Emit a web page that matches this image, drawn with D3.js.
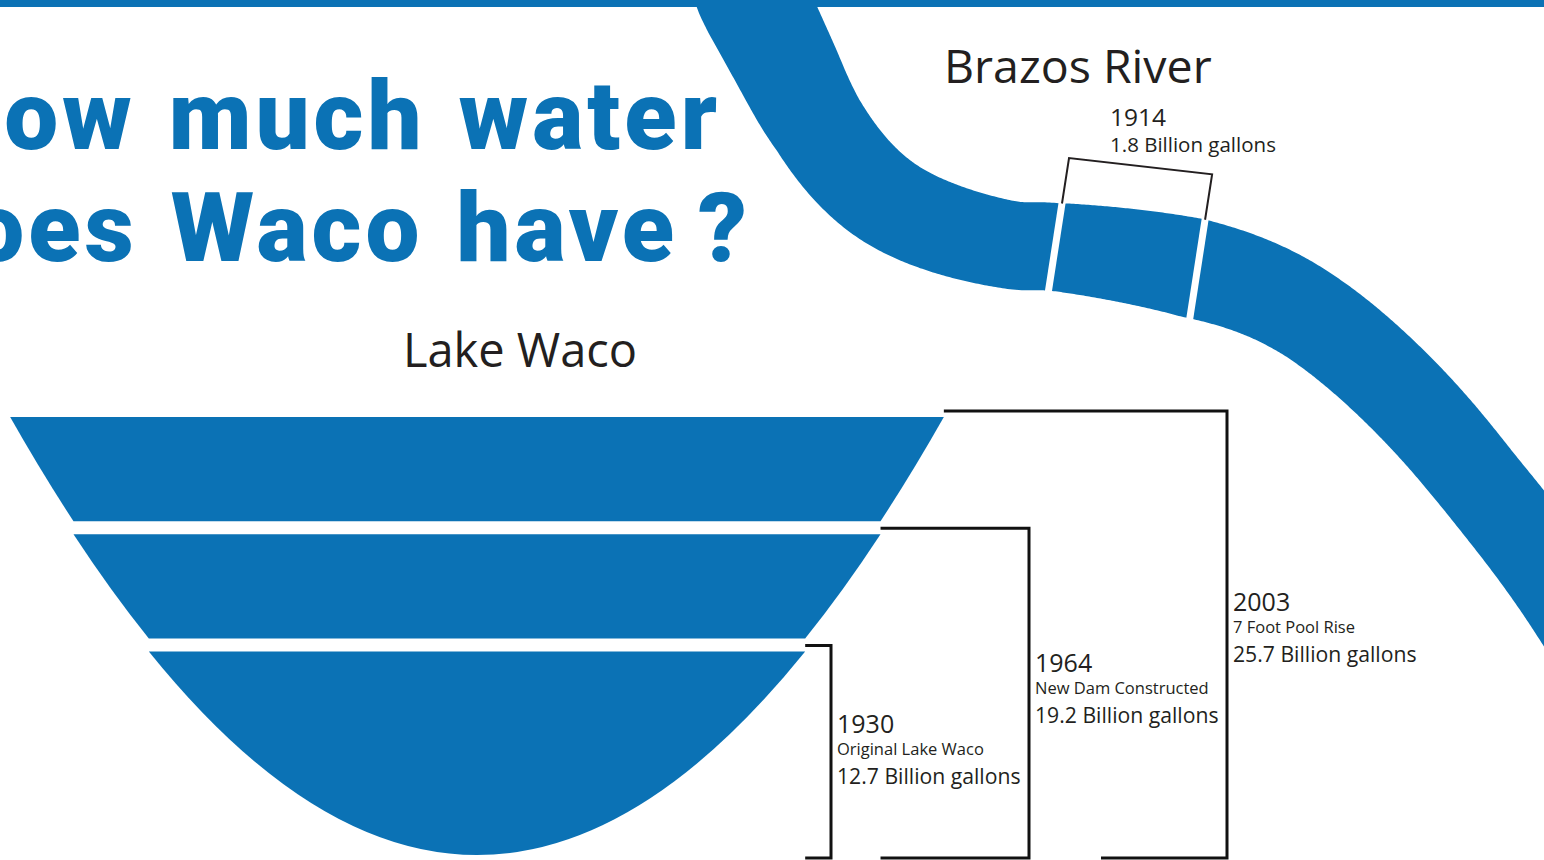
<!DOCTYPE html>
<html>
<head>
<meta charset="utf-8">
<script src="https://cdn.jsdelivr.net/npm/d3@7"></script>
<style>
  body { margin: 0; background: #fff; overflow: hidden; }
  text { font-family: "Open Sans", sans-serif; fill: #231f20; }
</style>
</head>
<body>
<svg id="chart" width="1544" height="860"></svg>
<script>
// lake capacity by year, billion gallons
const years = [1930, 1964, 2003];
const notes = ['Original Lake Waco', 'New Dam Constructed', '7 Foot Pool Rise'];
const capacity = [12.7, 19.2, 25.7];

// river storage
const riverYear = 1914;
const riverCapacity = 1.8;

const titleLines = ['How much water', 'Does Waco have ?'];

const W = 1544, H = 860;
const blue = '#0b72b5', ink = '#231f20';

const svg = d3.select('#chart');

// ---------- Brazos River ----------
// course of the river: x, y, band width
const course = [
    [749, -10, 110], [757, 7, 110], [789, 71, 104], [818, 125, 97],
    [893, 205, 93], [1005, 244, 88], [1055, 247, 88], [1193, 268, 100],
    [1313, 318, 94], [1413, 405, 92], [1480, 483, 90], [1544, 565, 91], [1600, 650, 91]
];
const cutX = [1055, 1196];

const centre = d3.line().curve(d3.curveNatural)(course.map(p => [p[0], p[1]]));
const probe = svg.append('path').attr('d', centre).attr('fill', 'none');
const node = probe.node();
const total = node.getTotalLength();
const widthAt = d3.scaleLinear().domain(course.map(p => p[0])).range(course.map(p => p[2]));

function sampleAt(l) {
    const p = node.getPointAtLength(l);
    const a = node.getPointAtLength(Math.max(l - 1, 0));
    const b = node.getPointAtLength(Math.min(l + 1, total));
    const len = Math.hypot(b.x - a.x, b.y - a.y);
    const n = [-(b.y - a.y) / len, (b.x - a.x) / len];   // points to the outer bank
    const w = widthAt(p.x);
    return {
        p: [p.x, p.y], w: w,
        inner: [p.x - n[0] * w / 2, p.y - n[1] * w / 2],
        outer: [p.x + n[0] * w / 2, p.y + n[1] * w / 2]
    };
}

const steps = d3.range(0, total, 2).concat([total]);
const band = steps.map(sampleAt);
const xs = band.map(s => s.p[0]);
const cuts = cutX.map(cx => band[d3.bisectLeft(xs, cx)]);
probe.remove();

const line = d3.line();
svg.append('path')
    .attr('fill', blue)
    .attr('d', line(band.map(d => d.inner).concat(band.slice().reverse().map(d => d.outer))) + 'Z');

// the stretch held in 1914 is cut out square to its chord
const chord = [cuts[1].p[0] - cuts[0].p[0], cuts[1].p[1] - cuts[0].p[1]];
const chordLen = Math.hypot(chord[0], chord[1]);
const cn = [-chord[1] / chordLen, chord[0] / chordLen];
const along = (c, k) => [c.p[0] + cn[0] * k, c.p[1] + cn[1] * k];

svg.append('g')
    .selectAll('line')
    .data(cuts)
    .join('line')
    .attr('stroke', '#fff')
    .attr('stroke-width', 7)
    .attr('x1', c => along(c, -c.w / 2 - 8)[0])
    .attr('y1', c => along(c, -c.w / 2 - 8)[1])
    .attr('x2', c => along(c, c.w / 2 + 8)[0])
    .attr('y2', c => along(c, c.w / 2 + 8)[1]);

const feet = cuts.map(c => along(c, -c.w / 2));
const heads = cuts.map(c => along(c, -c.w / 2 - 46));
svg.append('path')
    .attr('fill', 'none')
    .attr('stroke', ink)
    .attr('stroke-width', 2)
    .attr('d', line([feet[0], heads[0], heads[1], feet[1]]));

const riverLabel = svg.append('g')
    .attr('transform', 'translate(' + (heads[0][0] + 41) + ',' + heads[0][1] + ')');
riverLabel.append('text').attr('y', -32).attr('font-size', 24.5).text(riverYear);
riverLabel.append('text').attr('y', -6).attr('font-size', 20.5).text(riverCapacity + ' Billion gallons');

svg.append('text')
    .attr('x', 944).attr('y', 83)
    .attr('font-size', 46.5)
    .text('Brazos River');

// top stripe
svg.append('rect').attr('width', W).attr('height', 7).attr('fill', blue);

// ---------- title ----------
const title = svg.append('g')
    .selectAll('text')
    .data(titleLines)
    .join('text')
    .attr('x', (d, i) => i ? 751 : 721)
    .attr('y', (d, i) => 149 + i * 112)
    .attr('text-anchor', 'end')
    .style('font-family', 'Roboto, sans-serif')
    .style('font-weight', 900)
    .style('letter-spacing', '4px')
    .style('word-spacing', '5px')
    .style('fill', blue)
    .attr('font-size', 96);

// the question mark sits closer to its word
title.each(function (d) {
    const t = d3.select(this);
    const q = d.endsWith(' ?');
    t.append('tspan').text(q ? d.slice(0, -2) : d);
    if (q) t.append('tspan').attr('dx', -8).style('word-spacing', '0px').text(' ?');
});

// ---------- Lake Waco bowl ----------
const bowl = {cx: 477, bottom: 855, depth: 412, gap: 13, k: 23.0};
const depth = d3.scaleLinear().domain([0, d3.max(capacity)]).range([0, bowl.depth]);
const halfW = d => bowl.k * Math.sqrt(d);

const levels = capacity.map((c, i) => ({
    year: years[i], note: notes[i], cap: c, i: i,
    lo: i ? depth(capacity[i - 1]) : 0,
    hi: depth(c)
}));

function segmentPath(lv) {
    const off = lv.i * bowl.gap;
    const yAt = u => bowl.bottom - off - (u * u) / (bowl.k * bowl.k);
    const arc = (p, u1, u2) => {
        const uc = (u1 + u2) / 2;
        const slope = 2 * u1 / (bowl.k * bowl.k);
        p.quadraticCurveTo(bowl.cx + uc, yAt(u1) - slope * (uc - u1), bowl.cx + u2, yAt(u2));
    };
    const top = halfW(lv.hi), bot = halfW(lv.lo);
    const p = d3.path();
    p.moveTo(bowl.cx + top, yAt(top));
    p.lineTo(bowl.cx - top, yAt(top));
    arc(p, -top, -bot);
    if (bot > 0) p.lineTo(bowl.cx + bot, yAt(bot));
    arc(p, bot, top);
    p.closePath();
    return p.toString();
}

svg.append('g')
    .selectAll('path')
    .data(levels)
    .join('path')
    .attr('fill', blue)
    .attr('d', segmentPath);

svg.append('text')
    .attr('x', 520).attr('y', 367)
    .attr('text-anchor', 'middle')
    .attr('font-size', 47)
    .text('Lake Waco');

// brackets and labels
const bx = d3.scalePoint().domain(years).range([831, 1227]);
const labelY = d3.scalePoint().domain(years).range([733, 611]);
const bracketBottom = 858;

svg.append('g')
    .selectAll('path')
    .data(levels)
    .join('path')
    .attr('fill', 'none')
    .attr('stroke', '#111')
    .attr('stroke-width', 3)
    .attr('d', lv => {
        const x0 = bowl.cx + halfW(lv.hi);
        const y0 = bowl.bottom - lv.i * bowl.gap - lv.hi - 6;
        const prev = lv.i ? bx(years[lv.i - 1]) : -Infinity;
        const xb = x0 < prev ? prev + 72 : x0;
        return line([[x0, y0], [bx(lv.year), y0], [bx(lv.year), bracketBottom], [xb, bracketBottom]]);
    });

const labels = svg.append('g')
    .selectAll('g')
    .data(levels)
    .join('g')
    .attr('transform', lv => 'translate(' + (bx(lv.year) + 6) + ',' + labelY(lv.year) + ')');

labels.append('text').attr('font-size', 25).text(lv => lv.year);
labels.append('text').attr('y', 22).attr('font-size', 16.5).text(lv => lv.note);
labels.append('text').attr('y', 51).attr('font-size', 21.2).text(lv => lv.cap + ' Billion gallons');
</script>
</body>
</html>
